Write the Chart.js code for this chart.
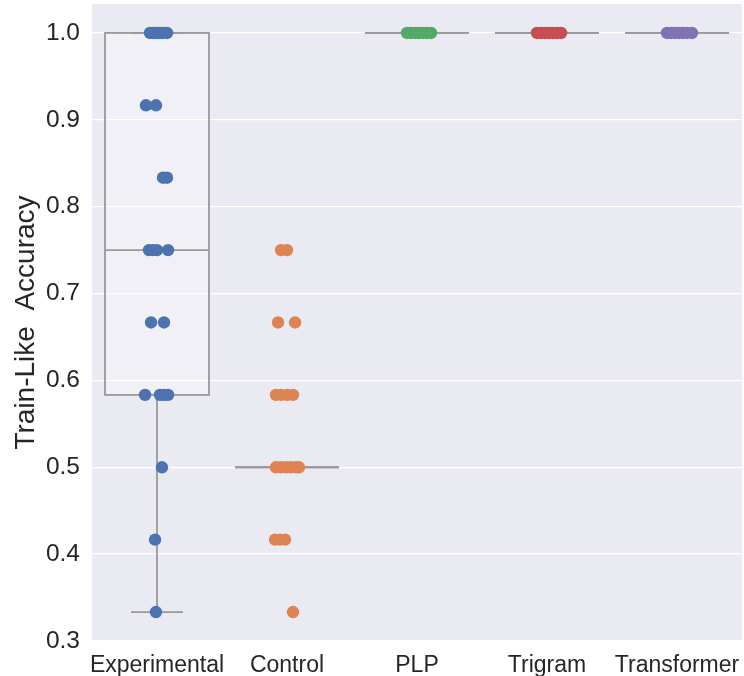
<!DOCTYPE html>
<html>
<head>
<meta charset="utf-8">
<script src="https://cdn.jsdelivr.net/npm/chart.js@4.4.1/dist/chart.umd.min.js"></script>
<style>
  body { margin: 0; background: #ffffff; }
  #wrap { width: 744px; height: 676px; }
</style>
</head>
<body>
<div id="wrap"><canvas id="myChart" width="744" height="676"></canvas></div>
<script>
const categories = ["Experimental", "Control", "PLP", "Trigram", "Transformer"];
const colors = ["#4c72b0", "#dd8452", "#55a868", "#c44e52", "#8172b3"];
const yTicks = [0.3, 0.4, 0.5, 0.6, 0.7, 0.8, 0.9, 1.0];

// accuracy per run, with the strip jitter (in category units) next to it
const expValues = [1.0, 1.0, 1.0, 1.0, 1.0, 1.0, 0.9167, 0.9167, 0.8333, 0.8333,
  0.75, 0.75, 0.75, 0.75, 0.6667, 0.6667, 0.5833, 0.5833, 0.5833, 0.5833, 0.5, 0.4167, 0.3333];
const expJitter = [-0.054, -0.023, 0.0, 0.023, 0.046, 0.077, -0.085, -0.008, 0.046, 0.077,
  -0.062, -0.031, 0.0, 0.085, -0.046, 0.054, -0.092, 0.023, 0.054, 0.085, 0.038, -0.015, -0.008];

const ctlValues = [0.75, 0.75, 0.6667, 0.6667, 0.5833, 0.5833, 0.5833, 0.5833,
  0.5, 0.5, 0.5, 0.5, 0.5, 0.5, 0.4167, 0.4167, 0.4167, 0.3333];
const ctlJitter = [-0.046, 0.0, -0.069, 0.062, -0.085, -0.046, 0.0, 0.046,
  -0.085, -0.046, -0.008, 0.031, 0.069, 0.092, -0.092, -0.054, -0.015, 0.046];

const plpValues = [1.0, 1.0, 1.0, 1.0, 1.0, 1.0, 1.0];
const plpJitter = [-0.077, -0.046, -0.015, 0.015, 0.046, 0.077, 0.108];
const triValues = [1.0, 1.0, 1.0, 1.0, 1.0, 1.0, 1.0];
const triJitter = [-0.077, -0.046, -0.015, 0.015, 0.046, 0.077, 0.108];
const tfmValues = [1.0, 1.0, 1.0, 1.0, 1.0, 1.0, 1.0];
const tfmJitter = [-0.077, -0.046, -0.015, 0.015, 0.046, 0.077, 0.115];

// box summary per category
const boxQ1 = [0.5833, 0.5, 1.0, 1.0, 1.0];
const boxMedian = [0.75, 0.5, 1.0, 1.0, 1.0];
const boxQ3 = [1.0, 0.5, 1.0, 1.0, 1.0];
const whiskerLow = [0.3333, 0.5, 1.0, 1.0, 1.0];
const whiskerHigh = [1.0, 0.5, 1.0, 1.0, 1.0];

const groups = [
  [expValues, expJitter], [ctlValues, ctlJitter], [plpValues, plpJitter],
  [triValues, triJitter], [tfmValues, tfmJitter]
];

const datasets = groups.map((g, i) => ({
  label: categories[i],
  data: g[0].map((v, k) => ({ x: i + g[1][k], y: v })),
  backgroundColor: colors[i],
  borderWidth: 0,
  pointRadius: 6.2,
  pointHoverRadius: 6.2
}));

const font = "Liberation Sans, Arial, sans-serif";

const panelBg = {
  id: "panelBg",
  beforeDraw(chart) {
    const { ctx, chartArea: a } = chart;
    ctx.save();
    ctx.fillStyle = "#eaeaf2";
    ctx.fillRect(a.left, a.top, a.right - a.left, a.bottom - a.top);
    ctx.restore();
  }
};

const boxes = {
  id: "boxes",
  beforeDatasetsDraw(chart) {
    const { ctx } = chart;
    const xs = chart.scales.x, ys = chart.scales.y;
    ctx.save();
    ctx.strokeStyle = "#999999";
    ctx.lineWidth = 1.8;
    categories.forEach((c, i) => {
      const l = xs.getPixelForValue(i - 0.4), r = xs.getPixelForValue(i + 0.4);
      const cl = xs.getPixelForValue(i - 0.2), cr = xs.getPixelForValue(i + 0.2);
      const cx = xs.getPixelForValue(i);
      const y1 = ys.getPixelForValue(boxQ1[i]), y3 = ys.getPixelForValue(boxQ3[i]);
      const ym = ys.getPixelForValue(boxMedian[i]);
      const wl = ys.getPixelForValue(whiskerLow[i]), wh = ys.getPixelForValue(whiskerHigh[i]);
      ctx.fillStyle = "rgba(255,255,255,0.3)";
      ctx.fillRect(l, y3, r - l, y1 - y3);
      ctx.strokeRect(l, y3, r - l, y1 - y3);
      ctx.beginPath();
      ctx.moveTo(l, ym); ctx.lineTo(r, ym);
      ctx.moveTo(cx, y1); ctx.lineTo(cx, wl);
      ctx.moveTo(cl, wl); ctx.lineTo(cr, wl);
      ctx.moveTo(cx, y3); ctx.lineTo(cx, wh);
      ctx.moveTo(cl, wh); ctx.lineTo(cr, wh);
      ctx.stroke();
    });
    ctx.restore();
  }
};

new Chart(document.getElementById("myChart"), {
  type: "scatter",
  data: { datasets: datasets },
  plugins: [panelBg, boxes],
  options: {
    responsive: false,
    animation: false,
    layout: { autoPadding: false, padding: { top: 4, right: 2, left: 0, bottom: 0 } },
    plugins: { legend: { display: false }, tooltip: { enabled: false } },
    scales: {
      x: {
        type: "linear",
        min: -0.5,
        max: 4.5,
        grid: { display: false },
        border: { display: false },
        afterBuildTicks: s => { s.ticks = categories.map((c, i) => ({ value: i })); },
        afterFit: s => { s.height = 35; s.paddingLeft = 0; s.paddingRight = 0; },
        ticks: {
          autoSkip: false,
          maxRotation: 0,
          padding: 3,
          color: "#262626",
          font: { family: font, size: 23 },
          callback: v => categories[v]
        }
      },
      y: {
        min: 0.3,
        max: 1.0333,
        grid: { color: "#ffffff", lineWidth: 1.3, drawTicks: false },
        border: { display: false },
        afterBuildTicks: s => { s.ticks = yTicks.map(v => ({ value: v })); },
        afterFit: s => { s.width = 92; s.paddingTop = 0; s.paddingBottom = 0; },
        ticks: {
          padding: 12,
          color: "#262626",
          font: { family: font, size: 24.5 },
          callback: v => v.toFixed(1)
        },
        title: {
          display: true,
          text: "Train-Like  Accuracy",
          color: "#262626",
          padding: { top: 9, bottom: 0 },
          font: { family: font, size: 28 }
        }
      }
    }
  }
});
</script>
</body>
</html>
